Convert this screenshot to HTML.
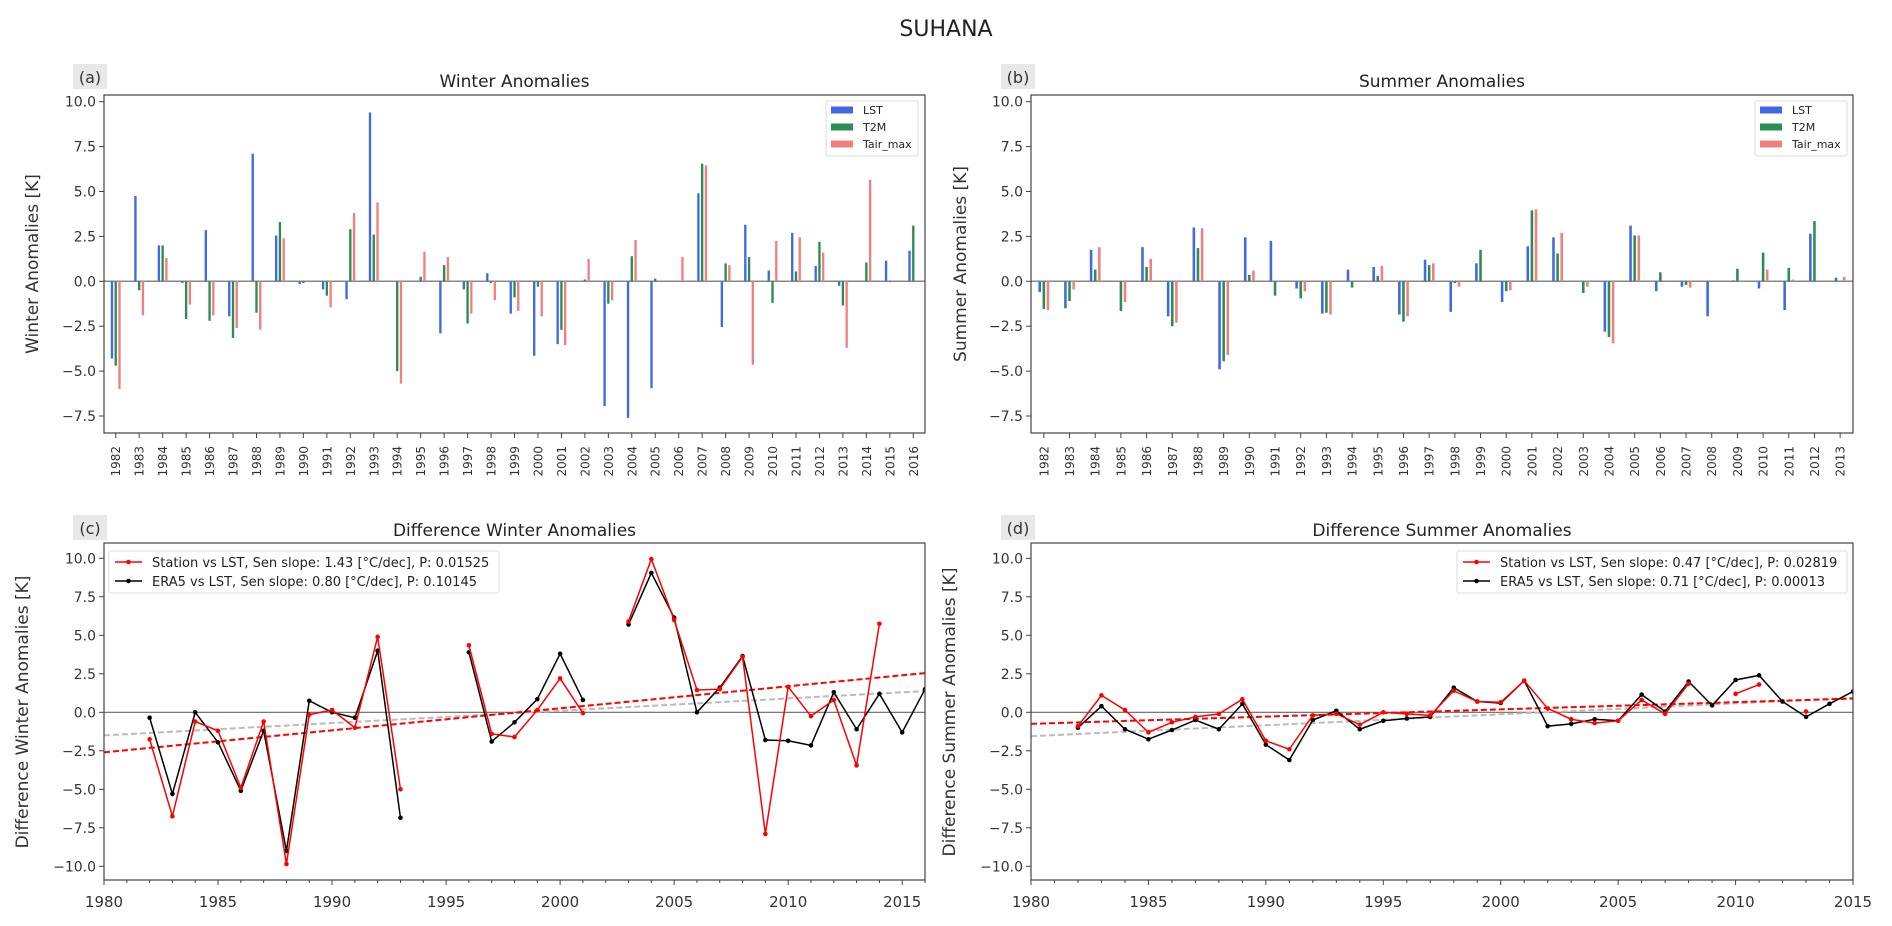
<!DOCTYPE html>
<html><head><meta charset="utf-8"><style>
body{margin:0;background:#fff;}
svg{display:block;font-family:"DejaVu Sans","Liberation Sans",sans-serif;}
</style></head><body>
<svg id="fig" width="1892" height="926" viewBox="0 0 1892 926" xmlns="http://www.w3.org/2000/svg">
<text x="946" y="36" font-size="22" text-anchor="middle" fill="#222">SUHANA</text>
</svg>
<script>
// ---------- Data ----------
const winterYears = [1982,1983,1984,1985,1986,1987,1988,1989,1990,1991,1992,1993,1994,1995,1996,1997,1998,1999,2000,2001,2002,2003,2004,2005,2006,2007,2008,2009,2010,2011,2012,2013,2014,2015,2016];
const winterLST  = [-4.3,4.75,2.0,-0.1,2.85,-1.95,7.1,2.55,-0.15,-0.45,-1.0,9.4,0,0,-2.9,-0.45,0.45,-1.8,-4.15,-3.5,0,-6.95,-7.6,-5.95,0,4.9,-2.55,3.15,0.6,2.7,0.85,-0.25,0,1.15,1.7];
const winterT2M  = [-4.7,-0.5,2.0,-2.1,-2.2,-3.15,-1.75,3.3,-0.1,-0.8,2.9,2.6,-5.0,0.25,0.9,-2.35,-0.1,-0.9,-0.3,-2.7,0.1,-1.25,1.4,0.15,0,6.55,1.0,1.35,-1.2,0.55,2.2,-1.35,1.05,-0.05,3.1];
const winterTair = [-6.0,-1.9,1.3,-1.3,-1.9,-2.6,-2.7,2.4,0,-1.45,3.8,4.4,-5.7,1.65,1.35,-1.8,-1.05,-1.65,-1.95,-3.55,1.25,-1.05,2.3,0,1.35,6.45,0.9,-4.65,2.25,2.45,1.6,-3.7,5.65,0,0];
const summerYears = [1982,1983,1984,1985,1986,1987,1988,1989,1990,1991,1992,1993,1994,1995,1996,1997,1998,1999,2000,2001,2002,2003,2004,2005,2006,2007,2008,2009,2010,2011,2012,2013];
const summerLST  = [-0.6,-1.5,1.75,0,1.9,-1.95,3.0,-4.9,2.45,2.25,-0.4,-1.8,0.65,0.8,-1.85,1.2,-1.7,1.0,-1.15,1.95,2.45,0,-2.8,3.1,-0.55,-0.3,-1.95,0.05,-0.4,-1.6,2.65,0.2];
const summerT2M  = [-1.55,-1.1,0.65,-1.65,0.8,-2.5,1.85,-4.45,0.35,-0.8,-0.95,-1.75,-0.35,0.3,-2.25,0.9,-0.1,1.75,-0.55,3.95,1.55,-0.65,-3.1,2.55,0.5,-0.2,0,0.7,1.6,0.75,3.35,0];
const summerTair = [-1.6,-0.45,1.9,-1.15,1.25,-2.3,2.95,-4.1,0.6,0,-0.55,-1.85,0,0.85,-1.95,1.0,-0.3,0,-0.5,4.0,2.7,-0.3,-3.45,2.55,0,-0.35,0,0,0.65,0.1,0,0.25];

const diffYearsW = [1982,1983,1984,1985,1986,1987,1988,1989,1990,1991,1992,1993,1994,1995,1996,1997,1998,1999,2000,2001,2002,2003,2004,2005,2006,2007,2008,2009,2010,2011,2012,2013,2014,2015,2016];
const diffStationW = [-1.75,-6.75,-0.6,-1.2,-4.9,-0.6,-9.85,-0.15,0.15,-1.0,4.9,-5.0,null,null,4.35,-1.4,-1.6,0.15,2.2,-0.05,null,5.9,9.95,6.0,1.45,1.5,3.6,-7.9,1.65,-0.25,0.8,-3.45,5.75,null,null];
const diffEra5W    = [-0.35,-5.3,0.0,-1.95,-5.1,-1.2,-9.0,0.75,0.0,-0.35,4.0,-6.85,null,null,3.9,-1.9,-0.65,0.85,3.8,0.8,null,5.7,9.05,6.15,0.0,1.6,3.65,-1.8,-1.85,-2.15,1.3,-1.1,1.2,-1.3,1.5];
const trendStationW = [-2.6, 1.43]; // value at 1980, slope per decade
const trendEra5W    = [-1.5, 0.80];

const diffYearsS = [1982,1983,1984,1985,1986,1987,1988,1989,1990,1991,1992,1993,1994,1995,1996,1997,1998,1999,2000,2001,2002,2003,2004,2005,2006,2007,2008,2009,2010,2011,2012,2013,2014,2015];
const diffStationS = [-0.9,1.1,0.15,-1.3,-0.65,-0.3,-0.1,0.85,-1.85,-2.4,-0.2,-0.1,-0.8,0.0,-0.1,-0.2,1.4,0.7,0.65,2.05,0.25,-0.45,-0.7,-0.55,0.8,-0.1,1.85,null,1.2,1.8,null,0.05,null,null];
const diffEra5S    = [-1.0,0.4,-1.1,-1.75,-1.15,-0.5,-1.1,0.55,-2.1,-3.1,-0.5,0.1,-1.1,-0.55,-0.4,-0.3,1.6,0.7,0.6,2.05,-0.9,-0.75,-0.45,-0.55,1.15,0.05,2.0,0.45,2.1,2.4,0.7,-0.3,0.55,1.35];
const trendStationS = [-0.75, 0.47];
const trendEra5S    = [-1.55, 0.71];

const barTicks = [-7.5,-5.0,-2.5,0.0,2.5,5.0,7.5,10.0];
const diffTicks = [-10.0,-7.5,-5.0,-2.5,0.0,2.5,5.0,7.5,10.0];
const diffXTicksW = [1980,1985,1990,1995,2000,2005,2010,2015];
const diffXTicksS = [1980,1985,1990,1995,2000,2005,2010,2015];

// ---------- Helpers ----------
const NS="http://www.w3.org/2000/svg";
const svg=document.getElementById('fig');
function mk(tag,attrs,parent,txt){const e=document.createElementNS(NS,tag);for(const k in attrs)e.setAttribute(k,attrs[k]);if(txt!==undefined)e.textContent=txt;(parent||svg).appendChild(e);return e;}
function fmt(v){return (v<0?'\u2212':'')+Math.abs(v).toFixed(1);}

function frame(g,L,R,T,B){
  const r=mk('rect',{x:L,y:T,width:R-L,height:B-T,fill:'none',stroke:'#444','stroke-width':1.2},g);
  
  
}
function yAxis(g,L,yScale,ticks){
  ticks.forEach(t=>{
    const y=yScale(t);
    const l=mk('line',{x1:L-5,x2:L,y1:y,y2:y,stroke:'#444'},g);
    
    
    const tx=mk('text',{x:L-8,y:y+5,'font-size':14,'text-anchor':'end',fill:'#333'},g,fmt(t));
    
    
  });
}
function labelBox(g,x,y,txt){
  const r=mk('rect',{x:x,y:y,width:34,height:25,fill:'#e8e8e8'},g);
  
  
  const t=mk('text',{x:x+17,y:y+19,'font-size':16,'text-anchor':'middle',fill:'#333'},g,txt);
  
  
}
function yTitle(g,x,y,txt){
  const t=mk('text',{x:x,y:y,'font-size':17,'text-anchor':'middle',fill:'#333',transform:`rotate(-90 ${x} ${y})`},g,txt);
  
  
}
function title(g,x,y,txt){
  const t=mk('text',{x:x,y:y,'font-size':17,'text-anchor':'middle',fill:'#222'},g,txt);
  
  
}

// ---------- Bar panels ----------
function barPanel(name,L,R,years,s1,s2,s3,tTitle,yT,lab,labX,yTitleX,legL){
  const g=mk('g',{});
  
  
  const T=95,B=433,y0=281.3,ppu=17.96;
  const yS=v=>y0-v*ppu;
  const n=years.length, cw=(R-L)/n;
  const xS=i=>L+(i+0.5)*cw;
  const zl=mk('line',{x1:L,x2:R,y1:yS(0),y2:yS(0),stroke:'#888','stroke-width':1.5},g);
  
  
  const cols=['#4169e1','#2e8b57','#f08080'], series=[s1,s2,s3], names=['lst','t2m','tair-max'];
  const bw=0.1*cw, off=0.16*cw;
  series.forEach((s,k)=>{
    s.forEach((v,i)=>{
      const x=xS(i)+(k-1)*off-bw/2;
      const y=Math.min(yS(v),yS(0)), h=Math.abs(yS(v)-yS(0));
      const r=mk('rect',{x:x,y:y,width:bw,height:Math.max(h,0.01),fill:cols[k]},g);
      
      
    });
  });
  frame(g,L,R,T,B);
  yAxis(g,L,yS,barTicks);
  years.forEach((yr,i)=>{
    const x=xS(i);
    const l=mk('line',{x1:x,x2:x,y1:B,y2:B+5,stroke:'#444'},g);
    
    
    const t=mk('text',{x:x+4.5,y:446,'font-size':12,'text-anchor':'end',fill:'#333',transform:`rotate(-90 ${x+4.5} 446)`},g,String(yr));
    
    
  });
  title(g,(L+R)/2,87,tTitle);
  labelBox(g,labX,64,lab);
  yTitle(g,yTitleX,264,yT);
  // legend
  const lg=mk('g',{},g);
  
  
  mk('rect',{x:legL,y:101,width:92,height:55,fill:'#fff',stroke:'#ddd',rx:2},lg);
  ['LST','T2M','Tair_max'].forEach((nm,k)=>{
    const yy=110+k*17;
    const p=mk('rect',{x:legL+5,y:yy-3.5,width:22,height:7,fill:cols[k]},lg);
    
    
    const t=mk('text',{x:legL+37,y:yy+4,'font-size':11,fill:'#222'},lg,nm);
    
    
  });
}
barPanel('panel-a-winter',104,925,winterYears,winterLST,winterT2M,winterTair,'Winter Anomalies','Winter Anomalies [K]','(a)',73,38,826);
barPanel('panel-b-summer',1031,1853,summerYears,summerLST,summerT2M,summerTair,'Summer Anomalies','Summer Anomalies [K]','(b)',1001,966,1755);

// ---------- Line panels ----------
function linePanel(name,L,R,x0,x1,years,st,er,trS,trE,xticks,tTitle,yT,lab,labX,yTitleX,legL,legW,legTxt){
  const g=mk('g',{});
  
  
  const T=543,B=880,y0=712.3,ppu=15.4;
  const yS=v=>y0-v*ppu;
  const xS=v=>L+(v-x0)/(x1-x0)*(R-L);
  const cp=mk('clipPath',{id:'clip-'+name},g);
  mk('rect',{x:L,y:T,width:R-L,height:B-T},cp);
  const inner=mk('g',{'clip-path':`url(#clip-${name})`},g);
  const zl=mk('line',{x1:L,x2:R,y1:yS(0),y2:yS(0),stroke:'#666','stroke-width':1.2},inner);
  
  
  // trends
  [[trE,'#bbb','trend-era5'],[trS,'#f00','trend-station']].forEach(([tr,c,nm])=>{
    const v0=tr[0], v1=tr[0]+tr[1]*(x1-x0)/10;
    const l=mk('line',{x1:xS(x0),x2:xS(x1),y1:yS(v0),y2:yS(v1),stroke:c,'stroke-width':2,'stroke-dasharray':'6,3'},inner);
    
    
  });
  // series
  [[er,'#000','era5'],[st,'#f00','station']].forEach(([s,c,nm])=>{
    let segs=[],cur=[];
    s.forEach((v,i)=>{if(v===null){if(cur.length)segs.push(cur);cur=[];}else cur.push([xS(years[i]),yS(v)]);});
    if(cur.length)segs.push(cur);
    segs.forEach(sg=>{
      const p=mk('polyline',{points:sg.map(q=>q.join(',')).join(' '),fill:'none',stroke:c,'stroke-width':1.5},inner);
      
      
    });
    s.forEach((v,i)=>{
      if(v===null)return;
      const m=mk('circle',{cx:xS(years[i]),cy:yS(v),r:2.3,fill:c},inner);
      
      
    });
  });
  frame(g,L,R,T,B);
  yAxis(g,L,yS,diffTicks);
  for(let yr=x0;yr<=x1;yr++){
    const x=xS(yr), major=xticks.includes(yr);
    const l=mk('line',{x1:x,x2:x,y1:B,y2:B+(major?5:3),stroke:'#444'},g);
    
    
  }
  xticks.forEach(t=>{
    const tx=mk('text',{x:xS(t),y:907,'font-size':15,'text-anchor':'middle',fill:'#333'},g,String(t));
    
    
  });
  title(g,(L+R)/2,536,tTitle);
  labelBox(g,labX,515,lab);
  yTitle(g,yTitleX,712,yT);
  const lg=mk('g',{},g);
  
  
  mk('rect',{x:legL,y:551,width:legW,height:42,fill:'#fff',stroke:'#ddd',rx:2},lg);
  [['#f00','station'],['#000','era5']].forEach(([c,nm],k)=>{
    const yy=562+k*19;
    const l=mk('line',{x1:legL+6,x2:legL+33,y1:yy,y2:yy,stroke:c,'stroke-width':1.5},lg);
    
    
    mk('circle',{cx:legL+19.5,cy:yy,r:2.3,fill:c},lg);
    const t=mk('text',{x:legL+43,y:yy+5,'font-size':13,fill:'#222'},lg,legTxt[k]);
    
    
  });
}
linePanel('panel-c-diff-winter',104,925,1980,2016,diffYearsW,diffStationW,diffEra5W,trendStationW,trendEra5W,diffXTicksW,'Difference Winter Anomalies','Difference Winter Anomalies [K]','(c)',73,28,109,390,
  ['Station vs LST, Sen slope: 1.43 [°C/dec], P: 0.01525','ERA5 vs LST, Sen slope: 0.80 [°C/dec], P: 0.10145']);
linePanel('panel-d-diff-summer',1031,1853,1980,2015,diffYearsS,diffStationS,diffEra5S,trendStationS,trendEra5S,diffXTicksS,'Difference Summer Anomalies','Difference Summer Anomalies [K]','(d)',1001,955,1457,390,
  ['Station vs LST, Sen slope: 0.47 [°C/dec], P: 0.02819','ERA5 vs LST, Sen slope: 0.71 [°C/dec], P: 0.00013']);
</script>
</body></html>
